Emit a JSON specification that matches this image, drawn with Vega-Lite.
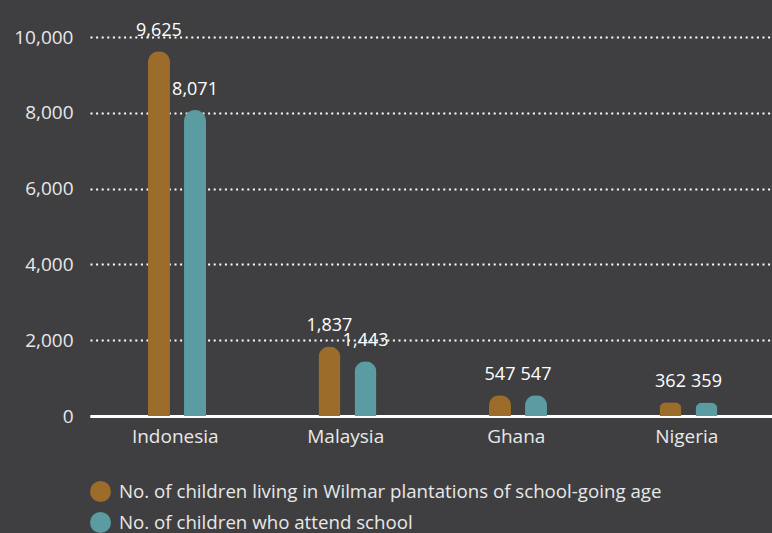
{
  "$schema": "https://vega.github.io/schema/vega-lite/v6.json",
  "width": 682,
  "height": 379,
  "autosize": {"type": "none"},
  "padding": {"left": 90, "top": 37, "right": 0, "bottom": 117},
  "background": "#3f3f41",
  "config": {
    "view": {"stroke": null},
    "font": "Open Sans",
    "axis": {"labelFont": "Open Sans", "labelColor": "#e8e8e8"}
  },
  "data": {
    "values": [
      {"country": "Indonesia", "series": "No. of children living in Wilmar plantations of school-going age", "value": 9625},
      {"country": "Indonesia", "series": "No. of children who attend school", "value": 8071},
      {"country": "Malaysia", "series": "No. of children living in Wilmar plantations of school-going age", "value": 1837},
      {"country": "Malaysia", "series": "No. of children who attend school", "value": 1443},
      {"country": "Ghana", "series": "No. of children living in Wilmar plantations of school-going age", "value": 547},
      {"country": "Ghana", "series": "No. of children who attend school", "value": 547},
      {"country": "Nigeria", "series": "No. of children living in Wilmar plantations of school-going age", "value": 362},
      {"country": "Nigeria", "series": "No. of children who attend school", "value": 359}
    ]
  },
  "encoding": {
    "x": {
      "field": "country", "type": "nominal", "sort": null,
      "scale": {"padding": 0},
      "axis": {
        "title": null, "labelAngle": 0, "ticks": false, "domain": true,
        "domainColor": "#ffffff", "domainWidth": 3, "labelPadding": 11, "labelFontSize": 19
      }
    },
    "xOffset": {
      "field": "series", "type": "nominal", "sort": null,
      "scale": {"range": [58, 116], "paddingInner": 0.39, "paddingOuter": 0}
    },
    "y": {
      "field": "value", "type": "quantitative",
      "scale": {"domain": [0, 10000], "nice": false},
      "axis": {
        "title": null, "values": [0, 2000, 4000, 6000, 8000, 10000], "format": ",.0f",
        "ticks": false, "domain": false, "labelPadding": 17, "labelFontSize": 19,
        "grid": true, "gridColor": "#ffffff", "gridWidth": 2, "gridDash": [2, 3.6]
      }
    }
  },
  "layer": [
    {
      "mark": {"type": "bar", "cornerRadiusTopLeft": 11, "cornerRadiusTopRight": 11},
      "encoding": {
        "color": {
          "field": "series", "type": "nominal", "sort": null,
          "scale": {"range": ["#9c6c2a", "#5a9ca2"]},
          "legend": {
            "title": null, "orient": "none", "legendX": 0, "legendY": 444,
            "direction": "vertical", "symbolType": "circle", "symbolSize": 440,
            "symbolStrokeWidth": 0, "labelFontSize": 18.7, "labelColor": "#e8e8e8",
            "labelFont": "Open Sans", "rowPadding": 10, "labelOffset": 8, "labelLimit": 700
          }
        }
      }
    },
    {
      "mark": {"type": "text", "baseline": "bottom", "dy": -11, "fontSize": 18, "color": "#ffffff", "font": "Open Sans"},
      "encoding": {
        "text": {"field": "value", "type": "quantitative", "format": ","}
      }
    }
  ]
}
